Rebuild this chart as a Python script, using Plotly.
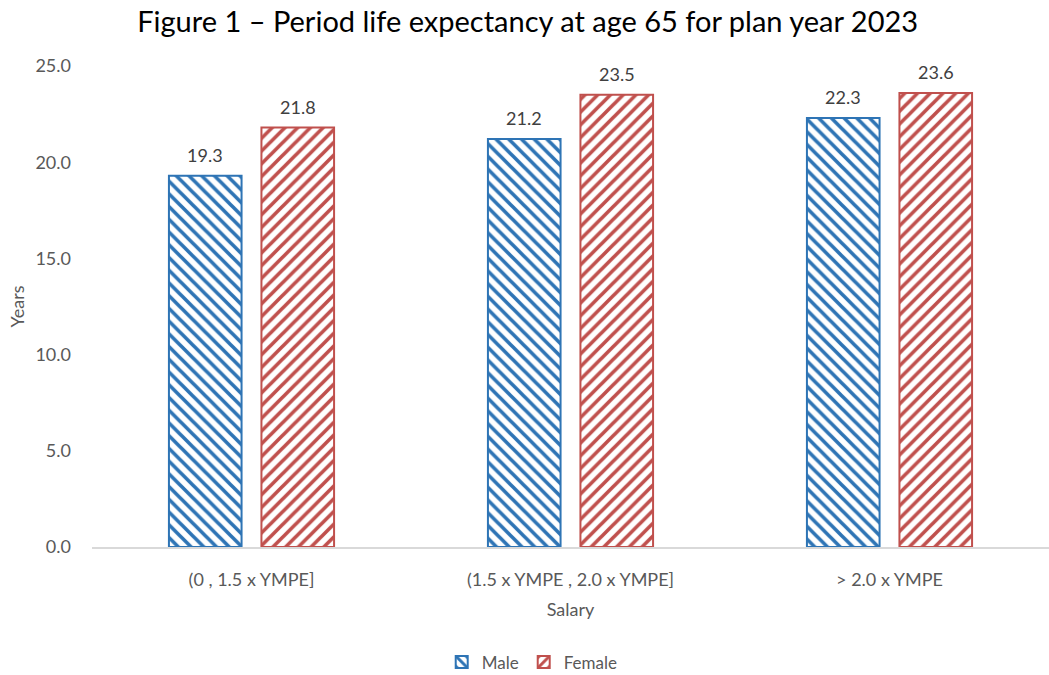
import plotly.graph_objects as go

# Salary bands and period life expectancy at age 65 (years)
categories = ["(0 , 1.5 x YMPE]", "(1.5 x YMPE , 2.0 x YMPE]", "> 2.0 x YMPE"]
male = [19.3, 21.2, 22.3]
female = [21.8, 23.5, 23.6]
y_ticks = [0, 5, 10, 15, 20, 25]

BLUE = "#2E74B5"
RED = "#C0504D"
FONT = "Lato"
BAR_OFFSET = 46.5  # px from category centre to each bar centre

fig = go.Figure()
fig.add_trace(go.Bar(
    name="Male", x=categories, y=male,
    marker=dict(color="white", line=dict(color=BLUE, width=2),
                pattern=dict(shape="\\", fgcolor=BLUE, bgcolor="white",
                             fgopacity=1, size=9, solidity=0.4)),
))
fig.add_trace(go.Bar(
    name="Female", x=categories, y=female,
    marker=dict(color="white", line=dict(color=RED, width=2),
                pattern=dict(shape="/", fgcolor=RED, bgcolor="white",
                             fgopacity=1, size=9, solidity=0.4)),
))

# value labels above each bar
for vals, shift in ((male, -BAR_OFFSET), (female, BAR_OFFSET)):
    for cat, v in zip(categories, vals):
        fig.add_annotation(x=cat, y=v, text=f"{v:.1f}", showarrow=False,
                           xshift=shift, yshift=21, yanchor="middle",
                           font=dict(color="#404040", size=18, family=FONT))

fig.update_layout(
    width=1049, height=675,
    paper_bgcolor="white", plot_bgcolor="white",
    margin=dict(l=92, r=0, t=66, b=128, autoexpand=False),
    barmode="group", bargap=0.42, bargroupgap=0.215,
    font=dict(family=FONT, color="#595959", size=18),
    title=dict(text="Figure 1 – Period life expectancy at age 65 for plan year 2023",
               x=0.503, xanchor="center", y=0.967, yanchor="middle",
               font=dict(size=29, color="black", family=FONT)),
    xaxis=dict(showgrid=False, showline=True, linecolor="#D9D9D9", linewidth=1.5,
               ticks="outside", ticklen=16, tickcolor="rgba(0,0,0,0)",
               tickfont=dict(size=18, color="#595959"),
               title=dict(text="Salary", font=dict(size=18, color="#595959"), standoff=14)),
    yaxis=dict(range=[0, 25], tickvals=y_ticks, ticktext=[f"{v:.1f}" for v in y_ticks],
               showgrid=False, zeroline=False, showline=False, ticks="",
               tickfont=dict(size=18, color="#595959"), ticklabelstandoff=20,
               title=dict(text="Years", font=dict(size=18, color="#595959"), standoff=6)),
    legend=dict(orientation="h", x=0.46, xanchor="center", y=-0.24, yanchor="middle",
                font=dict(size=17, color="#595959"), itemwidth=30),
)

fig.write_html("out.html")
